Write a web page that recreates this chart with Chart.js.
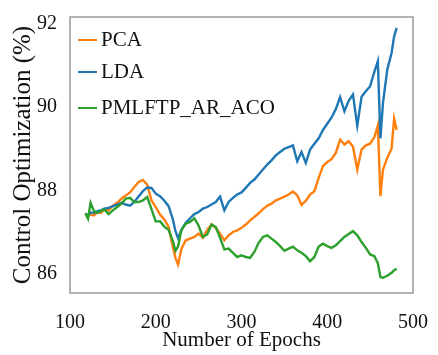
<!DOCTYPE html>
<html>
<head>
<meta charset="utf-8">
<script src="https://cdn.jsdelivr.net/npm/chart.js@4.4.1/dist/chart.umd.min.js"></script>
<style>
  html, body { margin: 0; padding: 0; background: #ffffff; }
  canvas { display: block; }
</style>
</head>
<body>
<canvas id="c" width="438" height="355"></canvas>
<script>
// ---- data ----
const epochs = [118,121,124,128,132,136,140,145,150,155,160,165,170,175,180,185,190,195,200,205,210,215,
  220,223,226,230,235,240,245,250,255,260,265,270,275,280,285,290,295,300,305,310,315,320,325,330,335,340,
  345,350,355,360,365,370,375,380,385,390,395,400,405,410,415,420,425,430,435,440,445,450,455,
  459,462,465,470,475,478,481];

const pca = [87.45,87.38,87.42,87.40,87.48,87.46,87.54,87.52,87.63,87.70,87.80,87.88,87.95,88.08,88.20,88.25,88.14,87.76,87.60,87.42,87.30,87.12,
  86.64,86.38,86.22,86.60,86.80,86.84,86.88,86.96,86.86,87.05,87.18,87.10,86.96,86.80,86.92,87.00,87.04,87.10,87.18,87.28,87.36,87.45,87.55,87.63,87.68,87.76,
  87.80,87.85,87.90,87.97,87.88,87.65,87.75,87.90,87.98,88.30,88.58,88.68,88.75,88.90,89.22,89.10,89.18,89.05,88.50,88.98,89.08,89.12,89.28,
  89.56,87.86,88.50,88.78,89.00,89.72,89.45];

const lda = [87.43,87.40,87.47,87.46,87.50,87.52,87.56,87.58,87.62,87.66,87.70,87.66,87.63,87.72,87.85,87.98,88.07,88.06,87.92,87.86,87.75,87.62,
  87.30,87.02,86.85,87.05,87.22,87.33,87.43,87.48,87.56,87.60,87.66,87.72,87.85,87.52,87.72,87.82,87.90,87.95,88.06,88.18,88.26,88.38,88.50,88.62,88.72,88.84,
  88.92,89.00,89.04,89.08,88.70,88.92,88.66,88.98,89.12,89.25,89.45,89.60,89.75,89.95,90.24,89.90,90.15,90.30,89.55,90.25,90.38,90.50,90.85,
  91.10,89.25,90.10,90.90,91.30,91.70,91.90];

const pmlftp = [87.45,87.32,87.70,87.50,87.46,87.50,87.54,87.43,87.52,87.60,87.68,87.80,87.82,87.72,87.72,87.76,87.84,87.55,87.25,87.26,87.13,87.05,
  86.78,86.55,86.65,87.05,87.20,87.24,87.33,87.15,86.88,86.94,87.18,87.12,86.86,86.58,86.60,86.50,86.40,86.44,86.40,86.38,86.52,86.74,86.88,86.92,86.84,86.76,
  86.66,86.55,86.60,86.65,86.56,86.50,86.42,86.30,86.40,86.65,86.72,86.66,86.62,86.68,86.78,86.88,86.95,87.02,86.92,86.76,86.62,86.46,86.42,
  86.25,85.92,85.90,85.95,86.02,86.08,86.12];

const seriesNames = ['PCA', 'LDA', 'PMLFTP_AR_ACO'];
const xTicks = [100, 200, 300, 400, 500];
const yTicks = [86, 88, 90, 92];

// ---- styling ----
const FONT = '"Liberation Serif", "Times New Roman", serif';
const TEXT = '#111111';
const colors = ['#ff7f0e', '#1f77b4', '#2ca02c'];

const toPts = arr => epochs.map((e, i) => ({ x: e, y: arr[i] }));

const framePlugin = {
  id: 'frame',
  afterDatasetsDraw(chart) {
    const { ctx, chartArea: a } = chart;
    ctx.save();
    ctx.strokeStyle = '#9a9a9a';
    ctx.lineWidth = 1.5;
    ctx.strokeRect(a.left, a.top, a.right - a.left, a.bottom - a.top);
    ctx.restore();
  }
};

const legendPlugin = {
  id: 'inlineLegend',
  afterDraw(chart) {
    const { ctx, chartArea: a } = chart;
    const rows = [23, 55, 91];
    ctx.save();
    ctx.font = '21px ' + FONT;
    ctx.textBaseline = 'middle';
    ctx.textAlign = 'left';
    chart.data.datasets.forEach((ds, i) => {
      const y = a.top + rows[i];
      ctx.strokeStyle = ds.borderColor;
      ctx.lineWidth = 2;
      ctx.beginPath();
      ctx.moveTo(a.left + 8, y);
      ctx.lineTo(a.left + 27, y);
      ctx.stroke();
      ctx.fillStyle = TEXT;
      ctx.fillText(ds.label, a.left + 31, y);
    });
    ctx.restore();
  }
};

new Chart(document.getElementById('c'), {
  type: 'line',
  data: {
    datasets: [
      { label: seriesNames[0], data: toPts(pca), borderColor: colors[0], order: 2 },
      { label: seriesNames[1], data: toPts(lda), borderColor: colors[1], order: 1 },
      { label: seriesNames[2], data: toPts(pmlftp), borderColor: colors[2], order: 0 }
    ].map(d => Object.assign(d, { borderWidth: 2.4, pointRadius: 0, tension: 0, fill: false }))
  },
  options: {
    responsive: false,
    animation: false,
    layout: { padding: { top: 8, right: 16, bottom: 0, left: 0 } },
    plugins: { legend: { display: false }, tooltip: { enabled: false } },
    scales: {
      x: {
        type: 'linear',
        min: 100, max: 500,
        afterBuildTicks: s => { s.ticks = xTicks.map(v => ({ value: v })); },
        afterFit: s => { s.height = 62; },
        grid: { display: false },
        border: { display: false },
        ticks: { font: { family: FONT, size: 20 }, color: TEXT, padding: 10, maxRotation: 0, autoSkip: false },
        title: { display: true, text: 'Number of Epochs', color: TEXT,
                 font: { family: FONT, size: 21 }, padding: { top: 0, bottom: 2 } }
      },
      y: {
        min: 85.535, max: 92.163,
        afterBuildTicks: s => { s.ticks = yTicks.map(v => ({ value: v })); },
        afterFit: s => { s.width = 70; },
        grid: { display: false },
        border: { display: false },
        ticks: { font: { family: FONT, size: 20 }, color: TEXT, padding: 5 },
        title: { display: true, text: 'Control Optimization (%)', color: TEXT,
                 font: { family: FONT, size: 25 }, padding: { top: 8, bottom: 0 } }
      }
    }
  },
  plugins: [framePlugin, legendPlugin]
});
</script>
</body>
</html>
